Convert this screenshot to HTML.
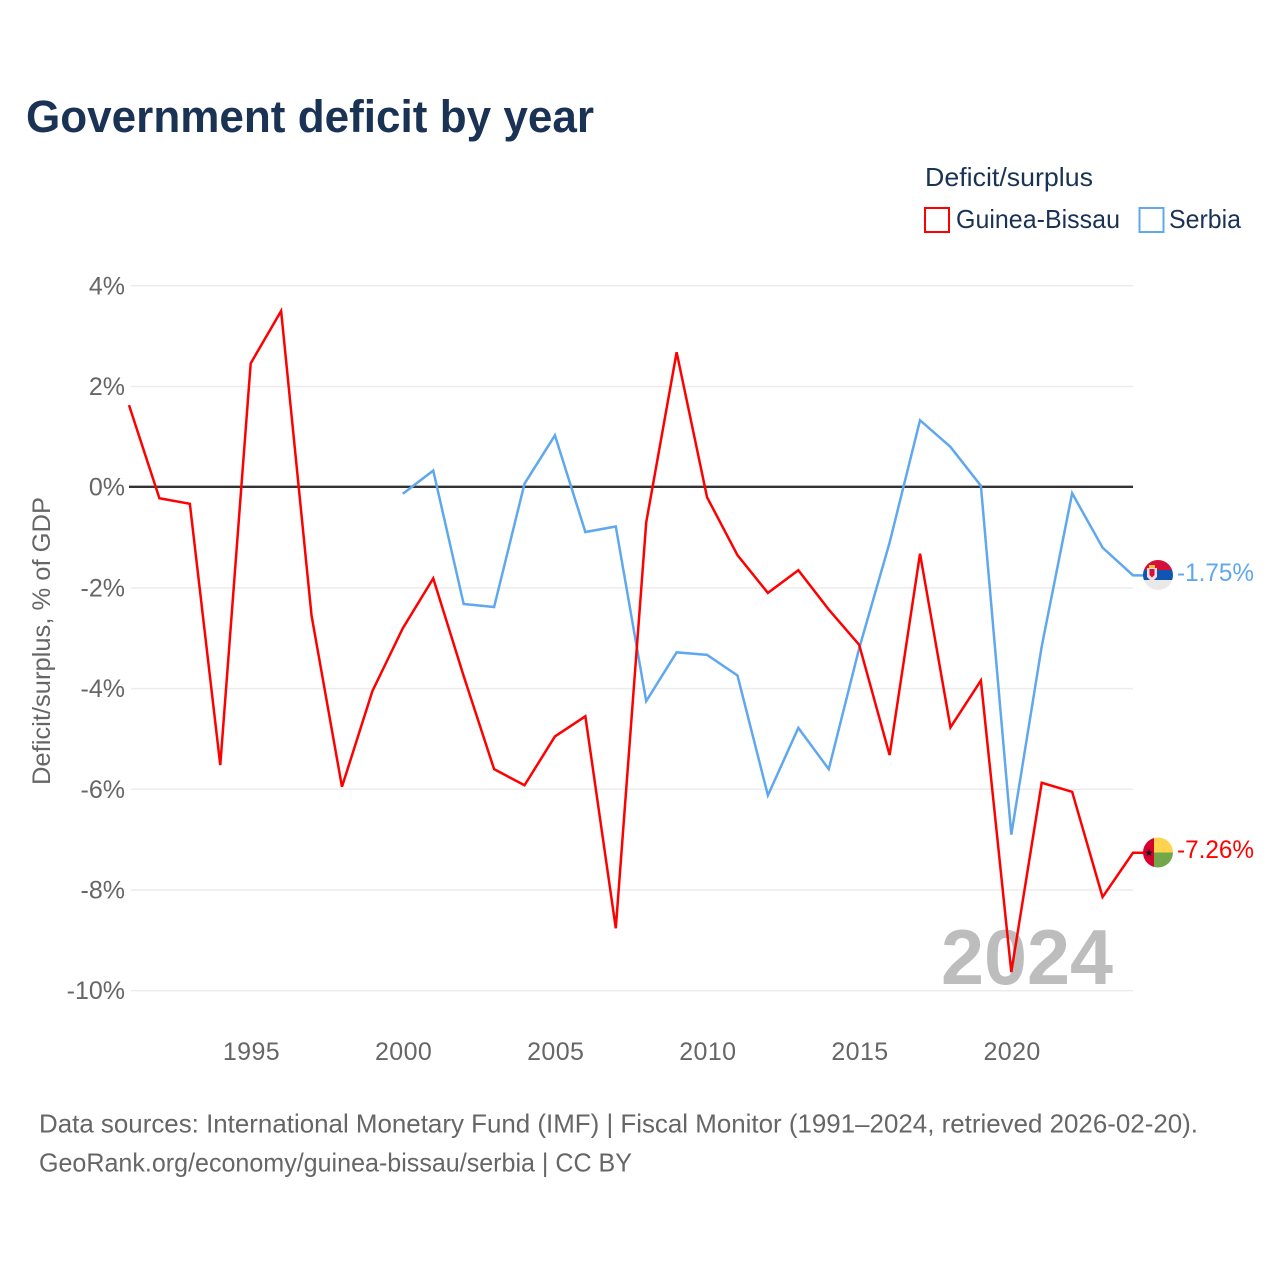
<!DOCTYPE html>
<html lang="en">
<head>
<meta charset="utf-8">
<title>Government deficit by year</title>
<style>
html,body{margin:0;padding:0;background:#fff;width:1280px;height:1280px;overflow:hidden}
svg{display:block}
text{font-family:"Liberation Sans",sans-serif}
</style>
</head>
<body>
<svg id="chart" width="1280" height="1280" viewBox="0 0 1280 1280" xmlns="http://www.w3.org/2000/svg">
  <defs>
    <clipPath id="clip-flag-rs"><circle cx="1158" cy="575" r="15"/></clipPath>
    <clipPath id="clip-flag-gw"><circle cx="1158" cy="852.5" r="15"/></clipPath>
  </defs>
  <text x="26" y="132" font-size="45" font-weight="700" fill="#1a3354" textLength="568" lengthAdjust="spacingAndGlyphs">Government deficit by year</text>

  <g>
    <text x="925" y="186" font-size="26" fill="#1a3354" textLength="168" lengthAdjust="spacingAndGlyphs">Deficit/surplus</text>
    <g>
      <rect x="925" y="208" width="24" height="24" fill="#fff" stroke="#ff0000" stroke-width="2"/>
      <text x="956" y="228" font-size="26" fill="#1a3354" textLength="164" lengthAdjust="spacingAndGlyphs">Guinea-Bissau</text>
    </g>
    <g>
      <rect x="1139.5" y="208" width="24" height="24" fill="#fff" stroke="#5fa8ee" stroke-width="2"/>
      <text x="1169" y="228" font-size="26" fill="#1a3354" textLength="72" lengthAdjust="spacingAndGlyphs">Serbia</text>
    </g>
  </g>

  <text transform="translate(50,641) rotate(-90)" text-anchor="middle" font-size="25" fill="#666" textLength="288" lengthAdjust="spacingAndGlyphs">Deficit/surplus, % of GDP</text>

  <g id="grid"></g>
  <g id="y-ticks"></g>
  <g id="x-ticks"></g>

  <text x="1113" y="984" text-anchor="end" font-size="78" font-weight="700" fill="#bdbdbd" textLength="172" lengthAdjust="spacingAndGlyphs">2024</text>

  <g id="series"></g>

  <g clip-path="url(#clip-flag-rs)">
    <rect x="1143" y="560" width="30" height="10" fill="#d6103b"/>
    <rect x="1143" y="570" width="30" height="10" fill="#0f56b3"/>
    <rect x="1143" y="580" width="30" height="10" fill="#e9e9e9"/>
    <path d="M1147 568h10v9l-5 5-5-5z" fill="#f6dcdc"/>
    <path d="M1149.5 569h5v6l-2.5 2.5-2.5-2.5z" fill="#d6103b"/>
    <rect x="1149" y="565" width="6" height="3" fill="#f2c230"/>
  </g>
  <g clip-path="url(#clip-flag-gw)">
    <rect x="1143" y="837" width="11" height="31" fill="#d6002f"/>
    <rect x="1154" y="837" width="19" height="15.5" fill="#ffd34d"/>
    <rect x="1154" y="852.5" width="19" height="15.5" fill="#73a74a"/>
    <polygon points="1149,848.8 1150,851.6 1153,851.6 1150.6,853.4 1151.5,856.3 1149,854.6 1146.5,856.3 1147.4,853.4 1145,851.6 1148,851.6" fill="#1a1a1a"/>
  </g>

  <text x="1177" y="581" font-size="25" fill="#5fa8ee" textLength="77" lengthAdjust="spacingAndGlyphs">-1.75%</text>
  <text x="1177" y="858" font-size="25" fill="#ff0000" textLength="77" lengthAdjust="spacingAndGlyphs">-7.26%</text>

  <g>
    <text x="39" y="1132.5" font-size="26" fill="#666" textLength="1159" lengthAdjust="spacingAndGlyphs">Data sources: International Monetary Fund (IMF) | Fiscal Monitor (1991–2024, retrieved 2026-02-20).</text>
    <text x="39" y="1171.5" font-size="26" fill="#666" textLength="593" lengthAdjust="spacingAndGlyphs">GeoRank.org/economy/guinea-bissau/serbia | CC BY</text>
  </g>
</svg>
<script>
const guineaYears = [1991,1992,1993,1994,1995,1996,1997,1998,1999,2000,2001,2002,2003,2004,2005,2006,2007,2008,2009,2010,2011,2012,2013,2014,2015,2016,2017,2018,2019,2020,2021,2022,2023,2024];
const guineaValues = [1.63,-0.22,-0.33,-5.52,2.46,3.5,-2.55,-5.95,-4.05,-2.8,-1.81,-3.75,-5.6,-5.92,-4.95,-4.55,-8.76,-0.7,2.68,-0.2,-1.35,-2.1,-1.65,-2.43,-3.13,-5.32,-1.32,-4.77,-3.84,-9.63,-5.87,-6.05,-8.14,-7.26];
const serbiaYears = [2000,2001,2002,2003,2004,2005,2006,2007,2008,2009,2010,2011,2012,2013,2014,2015,2016,2017,2018,2019,2020,2021,2022,2023,2024];
const serbiaValues = [-0.13,0.33,-2.32,-2.38,0.07,1.03,-0.89,-0.78,-4.25,-3.28,-3.33,-3.74,-6.12,-4.78,-5.6,-3.2,-1.1,1.33,0.8,0.03,-6.9,-3.16,-0.12,-1.2,-1.75];
const yTickValues = [4,2,0,-2,-4,-6,-8,-10];
const xTickValues = [1995,2000,2005,2010,2015,2020];

const NS = 'http://www.w3.org/2000/svg';
function xScale(year){ return 129 + (year - 1991) * (1133 - 129) / 33; }
function yScale(v){ return 487.2 - v * 50.35; }

const gridGroup = document.getElementById('grid');
const yTickGroup = document.getElementById('y-ticks');
const xTickGroup = document.getElementById('x-ticks');
const seriesGroup = document.getElementById('series');

yTickValues.forEach(function(v){
  if (v !== 0) {
    const line = document.createElementNS(NS, 'line');
    
    
    line.setAttribute('x1', 131);
    line.setAttribute('x2', 1133);
    line.setAttribute('y1', yScale(v));
    line.setAttribute('y2', yScale(v));
    line.setAttribute('stroke', '#ececec');
    line.setAttribute('stroke-width', 1.5);
    gridGroup.appendChild(line);
  }
  const t = document.createElementNS(NS, 'text');
  
  
  t.setAttribute('x', 125);
  t.setAttribute('y', yScale(v) + 8.5);
  t.setAttribute('text-anchor', 'end');
  t.setAttribute('font-size', 25);
  t.setAttribute('fill', '#666');
  t.textContent = v + '%';
  yTickGroup.appendChild(t);
});

xTickValues.forEach(function(y){
  const t = document.createElementNS(NS, 'text');
  
  
  t.setAttribute('x', xScale(y) + 0.8);
  t.setAttribute('y', 1060);
  t.setAttribute('text-anchor', 'middle');
  t.setAttribute('font-size', 25);
  t.setAttribute('letter-spacing', '0.4');
  t.setAttribute('fill', '#666');
  t.textContent = y;
  xTickGroup.appendChild(t);
});

function drawSeries(years, values, color, name){
  const pts = years.map(function(y, i){ return xScale(y) + ',' + yScale(values[i]); });
  pts.push('1146,' + yScale(values[values.length - 1]));
  const p = document.createElementNS(NS, 'polyline');
  
  
  p.setAttribute('points', pts.join(' '));
  p.setAttribute('fill', 'none');
  p.setAttribute('stroke', color);
  p.setAttribute('stroke-width', 2.5);
  p.setAttribute('stroke-linejoin', 'miter');
  seriesGroup.appendChild(p);
}

const zero = document.createElementNS(NS, 'line');


zero.setAttribute('x1', 129);
zero.setAttribute('x2', 1133);
zero.setAttribute('y1', yScale(0) - 0.4);
zero.setAttribute('y2', yScale(0) - 0.4);
zero.setAttribute('stroke', '#333');
zero.setAttribute('stroke-width', 2.4);
seriesGroup.appendChild(zero);

drawSeries(serbiaYears, serbiaValues, '#5fa8ee', 'series-serbia');
drawSeries(guineaYears, guineaValues, '#ff0000', 'series-guinea-bissau');
</script>
</body>
</html>
